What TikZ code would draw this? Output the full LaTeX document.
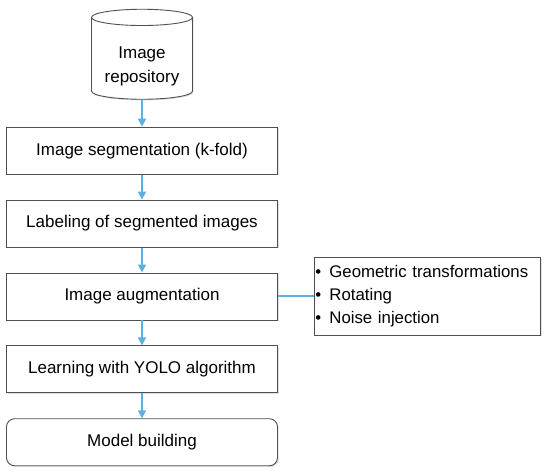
\documentclass[tikz,border=0pt]{standalone}
\usepackage{fontspec}
\setmainfont{Liberation Sans}
\usetikzlibrary{arrows.meta,positioning,shapes.geometric,shadows}
\definecolor{flowblue}{RGB}{91,176,222}
\definecolor{edgegray}{RGB}{80,80,80}

\begin{document}
\begin{tikzpicture}[x=1pt, y=1pt, >={Triangle[length=8pt,width=8pt]}, node distance=25pt and 36pt,
 every node/.style={font=\fontsize{17}{24}\selectfont, align=center},
 stage/.style={draw=edgegray, line width=0.9pt, fill=white, minimum width=271pt, minimum height=47pt, drop shadow={shadow xshift=1.2pt, shadow yshift=-1.2pt, opacity=.25}},
 store/.style={cylinder, shape border rotate=90, aspect=0.2, draw=edgegray, line width=0.9pt, fill=white, minimum width=101pt, minimum height=90pt, drop shadow={shadow xshift=1.2pt, shadow yshift=-1.2pt, opacity=.25}},
 notes/.style={draw=edgegray, line width=0.9pt, fill=white, text width=224pt, inner xsep=1pt, inner ysep=8pt, align=left, font=\fontsize{16.8}{23}\selectfont, drop shadow={shadow xshift=1.2pt, shadow yshift=-1.2pt, opacity=.25}},
 flow/.style={->, draw=flowblue, line width=1.6pt}]
\useasboundingbox (0,0) rectangle (550,-473);
\node[store] (repo) at (142,-60) {\raisebox{-6pt}[\height][\depth]{\begin{tabular}{@{}c@{}}Image\\repository\end{tabular}}};
\node[stage, below=27pt of repo] (seg) {Image segmentation (k-fold)};
\node[stage, below=of seg] (label) {Labeling of segmented images};
\node[stage, below=of label] (aug) {Image augmentation};
\node[stage, below=of aug] (yolo) {Learning with YOLO algorithm};
\node[stage, rounded corners=8pt, below=of yolo] (model) {Model building};
\node[notes, right=of aug] (extra) {\makebox[14pt][l]{\textbullet}Geometric transformations\\
 \makebox[14pt][l]{\textbullet}Rotating\\
 \makebox[14pt][l]{\textbullet}Noise injection};
\draw[flow] (repo) -- (seg);
\draw[flow] (seg) -- (label);
\draw[flow] (label) -- (aug);
\draw[flow] (aug) -- (yolo);
\draw[flow] (yolo) -- (model);
\draw[draw=flowblue, line width=2pt] (aug) -- (extra);
\end{tikzpicture}
\end{document}
